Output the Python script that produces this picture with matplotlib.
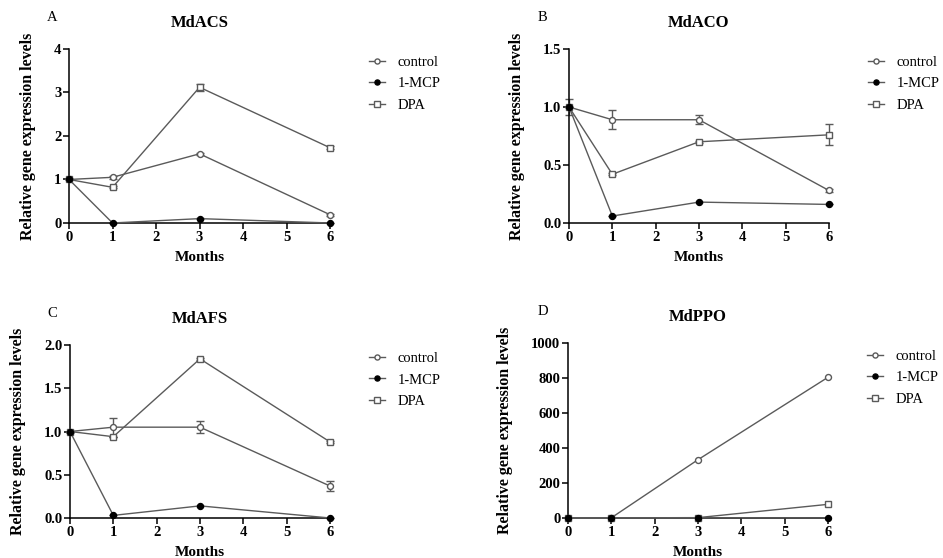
import matplotlib.pyplot as plt

plt.rcParams["font.family"] = ["Liberation Serif", "DejaVu Serif"]

months = [0, 1, 3, 6]
series = ["control", "1-MCP", "DPA"]

# MdACS
acs_control = [1.0, 1.05, 1.59, 0.19]
acs_mcp = [1.0, 0.0, 0.10, 0.0]
acs_dpa = [1.0, 0.82, 3.12, 1.73]
acs_control_err = [0.0, 0.04, 0.02, 0.02]
acs_mcp_err = [0.0, 0.0, 0.01, 0.0]
acs_dpa_err = [0.0, 0.02, 0.08, 0.03]

# MdACO
aco_control = [1.0, 0.89, 0.89, 0.28]
aco_mcp = [1.0, 0.06, 0.18, 0.16]
aco_dpa = [1.0, 0.42, 0.70, 0.76]
aco_control_err = [0.07, 0.08, 0.04, 0.01]
aco_mcp_err = [0.0, 0.0, 0.0, 0.0]
aco_dpa_err = [0.0, 0.01, 0.01, 0.09]

# MdAFS
afs_control = [1.0, 1.05, 1.05, 0.37]
afs_mcp = [1.0, 0.03, 0.14, 0.0]
afs_dpa = [1.0, 0.94, 1.84, 0.88]
afs_control_err = [0.0, 0.11, 0.07, 0.06]
afs_mcp_err = [0.0, 0.0, 0.0, 0.0]
afs_dpa_err = [0.0, 0.0, 0.01, 0.01]

# MdPPO
ppo_control = [1.0, 1.0, 333.0, 804.0]
ppo_mcp = [1.0, 0.5, 1.0, 0.5]
ppo_dpa = [1.0, 1.0, 2.0, 78.0]

panels = [
    ("A", "MdACS", acs_control, acs_mcp, acs_dpa,
     acs_control_err, acs_mcp_err, acs_dpa_err, 4, [0, 1, 2, 3, 4], "{:.0f}"),
    ("B", "MdACO", aco_control, aco_mcp, aco_dpa,
     aco_control_err, aco_mcp_err, aco_dpa_err, 1.5, [0, 0.5, 1.0, 1.5], "{:.1f}"),
    ("C", "MdAFS", afs_control, afs_mcp, afs_dpa,
     afs_control_err, afs_mcp_err, afs_dpa_err, 2.0, [0, 0.5, 1.0, 1.5, 2.0], "{:.1f}"),
    ("D", "MdPPO", ppo_control, ppo_mcp, ppo_dpa,
     None, None, None, 1000, [0, 200, 400, 600, 800, 1000], "{:.0f}"),
]

# axes boxes in figure fraction: left, bottom, width, height
boxes = [
    [0.0732, 0.6004, 0.2768, 0.3118],
    [0.6034, 0.6004, 0.2757, 0.3118],
    [0.0742, 0.0717, 0.2757, 0.3100],
    [0.6023, 0.0717, 0.2757, 0.3136],
]
# panel letter offset left of the y axis, in axes fraction
letter_dx = [-0.085, -0.12, -0.085, -0.115]

line_col = "#5a5a5a"
styles = {
    "control": dict(marker="o", mfc="white", mec=line_col),
    "1-MCP": dict(marker="o", mfc="black", mec="black"),
    "DPA": dict(marker="s", mfc="white", mec=line_col),
}

fig = plt.figure(figsize=(9.43, 5.58), dpi=100)

for (letter, title, ctl, mcp, dpa, ctl_e, mcp_e, dpa_e, ymax, yticks, fmt), box, dx in zip(panels, boxes, letter_dx):
    ax = fig.add_axes(box)
    vals = {"control": (ctl, ctl_e), "DPA": (dpa, dpa_e), "1-MCP": (mcp, mcp_e)}
    handles = {}
    for name in ["control", "DPA", "1-MCP"]:
        y, err = vals[name]
        st = styles[name]
        if err is not None:
            ax.errorbar(months, y, yerr=err, fmt="none", ecolor=line_col,
                        elinewidth=1, capsize=3, capthick=1, clip_on=False, zorder=2)
        h, = ax.plot(months, y, color=line_col, lw=1, ms=4.3, mew=1,
                     clip_on=False, zorder=3, **st)
        handles[name] = h
    ax.set_xlim(0, 6)
    ax.set_ylim(0, ymax)
    ax.set_xticks(range(7))
    ax.set_yticks(yticks)
    ax.set_yticklabels([fmt.format(t) for t in yticks])
    ax.spines["top"].set_visible(False)
    ax.spines["right"].set_visible(False)
    for s in ["left", "bottom"]:
        ax.spines[s].set_linewidth(1.1)
    ax.tick_params(direction="out", length=4, width=1.1, labelsize=10.5, pad=1.5)
    for lab in ax.get_xticklabels() + ax.get_yticklabels():
        lab.set_fontweight("bold")
    ax.set_xlabel("Months", fontsize=11, fontweight="bold", labelpad=5)
    ax.set_ylabel("Relative gene expression levels", fontsize=11.5,
                  fontweight="bold", labelpad=13)
    ax.set_title(title, fontsize=12, fontweight="bold", pad=16)
    ax.text(dx, 1.145, letter, transform=ax.transAxes, fontsize=10.5, va="bottom")
    ax.legend([handles[n] for n in series], series, loc="upper left",
              bbox_to_anchor=(1.1, 1.035), frameon=False, fontsize=10.5,
              handlelength=1.1, handletextpad=0.85, labelspacing=0.55,
              markerscale=0.85)

fig.savefig("out.png", dpi=100)
